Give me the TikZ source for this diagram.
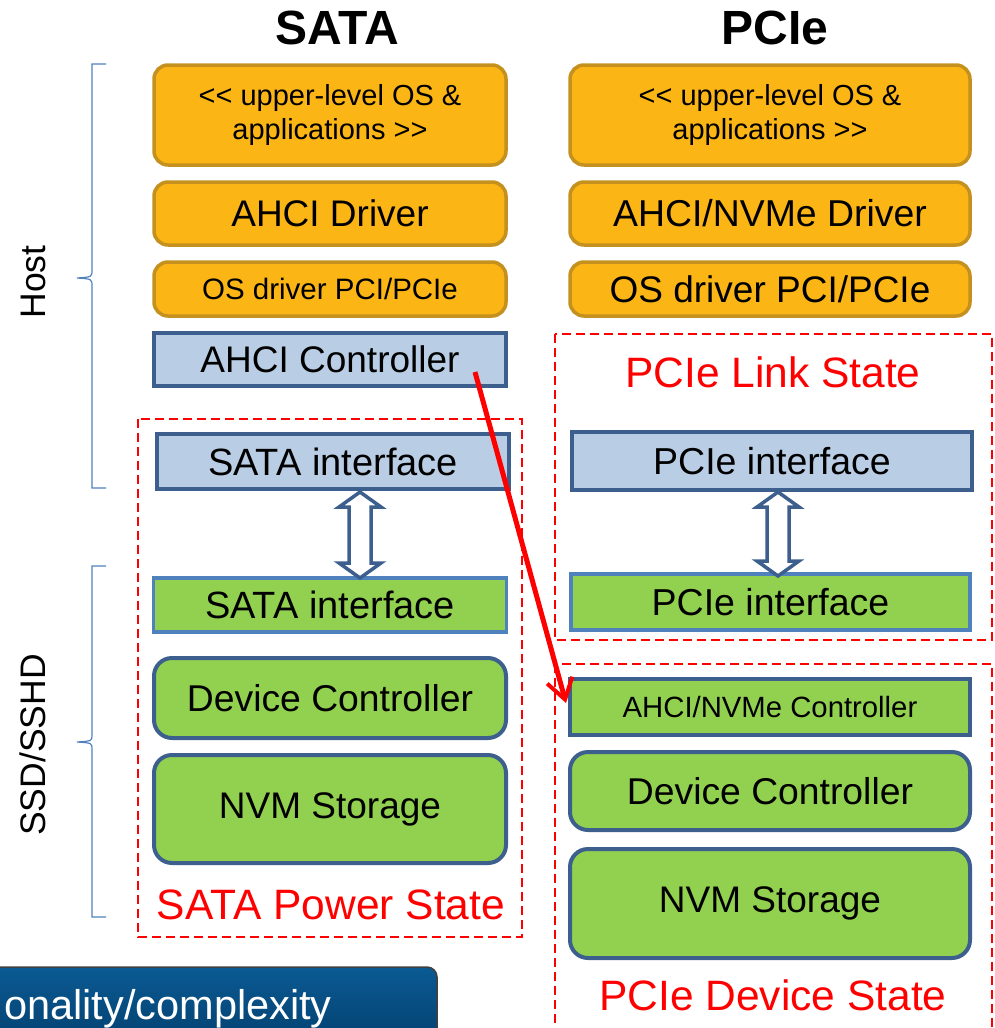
\documentclass[tikz,border=0pt]{standalone}
\usepackage{fontspec}
\setmainfont{Liberation Sans}
\usetikzlibrary{arrows.meta,calc}
\definecolor{orf}{HTML}{FBB515}
\definecolor{ord}{HTML}{C4901E}
\definecolor{bluf}{HTML}{B9CDE5}
\definecolor{blud}{HTML}{3C5F8D}
\definecolor{grf}{HTML}{92D050}
\definecolor{grd}{HTML}{4F81BD}
\definecolor{brc}{HTML}{4F81BD}
\definecolor{bannertop}{HTML}{0B5A93}
\definecolor{bannerbot}{HTML}{003864}
\newcommand{\fs}[1]{\fontsize{#1}{#1}\selectfont}
\begin{document}
\begin{tikzpicture}[x=1pt,y=-1pt,
  box/.style={inner sep=0pt, align=center, text=black},
  orbox/.style={box, fill=orf, draw=ord, line width=3.5pt, rounded corners=14pt},
  blbox/.style={box, fill=bluf, draw=blud, line width=4pt},
  grbox/.style={box, fill=grf, draw=grd, line width=3.5pt},
  grrbox/.style={box, fill=grf, draw=blud, line width=4pt, rounded corners=18pt},
  grsbox/.style={box, fill=grf, draw=blud, line width=4pt},
  statebox/.style={draw=red, line width=2pt, dash pattern=on 9pt off 5pt},
  statelabel/.style={text=red, font=\fs{42.5}, inner sep=0pt},
  title/.style={font=\bfseries\fs{48}, inner sep=0pt},
  brace/.style={draw=brc, line width=1.2pt},
  side/.style={rotate=90, font=\fs{35.5}, inner sep=0pt},
  dbl/.style={draw=blud, fill=white, line width=3.5pt, line join=miter},
  lw/.style={minimum width=352pt},
  rw/.style={minimum width=400pt}
]
\useasboundingbox (0,0) rectangle (994,1028);
\clip (0,0) rectangle (994,1028);

% titles
\node[title] (tsata) at (337,28) {SATA};
\node[title] (tpcie) at (775,28) {PCIe};

% braces and side labels
\draw[brace] (106,64) -- (92,64) -- (92,270) .. controls (92,277) .. (77,278)
  .. controls (92,279) .. (92,286) -- (92,488) -- (106,488);
\draw[brace] (106,566) -- (92,566) -- (92,735) .. controls (92,741) .. (77,742)
  .. controls (92,743) .. (92,749) -- (92,917) -- (106,917);
\node[side] (host) at (33,282) {Host};
\node[side] (ssd) at (33,745) {SSD/SSHD};

% state regions
\draw[statebox] (138,419) rectangle (522,937);
\draw[statebox] (555,334) rectangle (992,640);
\draw[statebox] (555,664) rectangle (992,1040);

% left column
\node[orbox, lw, minimum height=100pt, font=\fontsize{29}{33}\selectfont] (sos) at (330,115)
  {<\kern0pt< upper-level OS \&\\applications >\kern0pt>};
\node[orbox, lw, minimum height=63pt, font=\fs{37}] (sdrv) at (330,213.5) {AHCI Driver};
\node[orbox, lw, minimum height=54pt, font=\fs{29.5}] (spci) at (330,289) {OS driver PCI/PCIe};
\node[blbox, lw, minimum height=53pt, font=\fs{37}] (sctl) at (330,359.5) {AHCI Controller};
\node[blbox, lw, minimum height=55pt, font=\fs{38}] (sifh) at (333,461.5) {SATA interface};
\node[grbox, minimum width=353pt, minimum height=54pt, font=\fs{38}] (sifd) at (330,605) {SATA interface};
\node[grrbox, lw, minimum height=80pt, font=\fs{37.3}] (sdev) at (330,698) {Device Controller};
\node[grrbox, lw, minimum height=108pt, font=\fs{37}] (snvm) at (330,809) {NVM Storage};
\node[statelabel] (slab) at (331,905) {SATA Power State};

% right column
\node[orbox, rw, minimum height=100pt, font=\fontsize{29}{33}\selectfont] (pos) at (770,115)
  {<\kern0pt< upper-level OS \&\\applications >\kern0pt>};
\node[orbox, rw, minimum height=63pt, font=\fs{37.4}] (pdrv) at (770,213.5) {AHCI/NVMe Driver};
\node[orbox, rw, minimum height=54pt, font=\fs{37}] (ppci) at (770,289) {OS driver PCI/PCIe};
\node[statelabel] (llab) at (773,372) {PCIe Link State};
\node[blbox, rw, minimum height=58pt, font=\fs{37.5}] (pifh) at (772,461) {PCIe interface};
\node[grbox, minimum width=399pt, minimum height=56pt, font=\fs{37.5}] (pifd) at (770.5,602) {PCIe interface};
\node[grsbox, rw, minimum height=56pt, font=\fs{29.3}] (pctl) at (770,707) {AHCI/NVMe Controller};
\node[grrbox, rw, minimum height=78pt, font=\fs{37.3}] (pdev) at (770,791) {Device Controller};
\node[grrbox, rw, minimum height=109pt, font=\fs{37}] (pnvm) at (770,903.5) {NVM Storage};
\node[statelabel] (dlab) at (773,995) {PCIe Device State};

% double arrows
\coordinate (a1) at (360,492);
\coordinate (a2) at (360,578);
\draw[dbl] (a1) -- ($(a1)+(21,15)$) -- ($(a1)+(11,15)$) -- ($(a2)+(11,-15)$) -- ($(a2)+(21,-15)$)
  -- (a2) -- ($(a2)+(-21,-15)$) -- ($(a2)+(-11,-15)$) -- ($(a1)+(-11,15)$) -- ($(a1)+(-21,15)$) -- cycle;
\coordinate (b1) at (778,492);
\coordinate (b2) at (778,576);
\draw[dbl] (b1) -- ($(b1)+(21,15)$) -- ($(b1)+(11,15)$) -- ($(b2)+(11,-15)$) -- ($(b2)+(21,-15)$)
  -- (b2) -- ($(b2)+(-21,-15)$) -- ($(b2)+(-11,-15)$) -- ($(b1)+(-11,15)$) -- ($(b1)+(-21,15)$) -- cycle;

% red arrow
\coordinate (rs) at (475,372);
\coordinate (re) at (566,703);
\draw[red, line width=5pt, -{Straight Barb[length=20pt,width=26pt,line width=4pt]}] (rs) -- (re);

% banner
\draw[draw=black!75, line width=1.5pt, rounded corners=10pt, top color=bannertop, bottom color=bannerbot]
  (-20,967) rectangle (437,1070);
\node[anchor=base west, text=white, font=\fs{41.5}, inner sep=0pt] (btext) at (4,1019) {onality/complexity};
\end{tikzpicture}
\end{document}
